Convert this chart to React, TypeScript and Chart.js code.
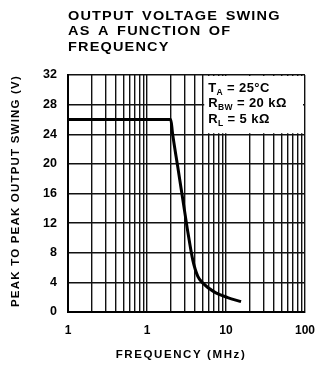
import React, { useEffect, useRef } from "react";
import { Chart, registerables } from "chart.js";

Chart.register(...registerables);

const titleLines = ["OUTPUT VOLTAGE SWING", "AS A FUNCTION OF", "FREQUENCY"];
const xAxisTitle = "FREQUENCY (MHz)";
const yAxisTitle = "PEAK TO PEAK OUTPUT SWING (V)";

const freqMHz = [0.1, 2.0, 2.1, 2.45, 2.85, 3.3, 3.8, 4.4, 5.1, 7.0, 10.5, 15.5];
const swingV = [26, 26, 24.2, 19.6, 15.1, 10.7, 7.0, 4.8, 3.9, 2.75, 1.95, 1.4];

const xTickValues = [0.1, 1, 10, 100];
const xTickLabels = ["1", "1", "10", "100"];
const yMin = 0;
const yMax = 32;
const yStep = 4;

const noteMain = ["T", "R", "R"];
const noteSub = ["A", "BW", "L"];
const noteRest = [" = 25°C", " = 20 kΩ", " = 5 kΩ"];

const FONT = "'Liberation Sans', Arial, sans-serif";

function gridValues(): number[] {
  const out: number[] = [];
  for (let d = 0; d < xTickValues.length - 1; d++) {
    for (let k = 1; k <= 9; k++) out.push(xTickValues[d] * k);
  }
  out.push(xTickValues[xTickValues.length - 1]);
  return out;
}

const decorPlugin = {
  id: "decor",
  beforeDatasetsDraw(chart: any) {
    const ctx = chart.ctx as CanvasRenderingContext2D;
    const a = chart.chartArea;
    const x5 = chart.scales.x.getPixelForValue(5);
    const y24 = chart.scales.y.getPixelForValue(24);
    ctx.save();
    ctx.fillStyle = "#fff";
    ctx.fillRect(x5 + 2, a.top + 1, a.right - x5 - 4, y24 - a.top - 2);
    ctx.fillStyle = "#000";
    ctx.textBaseline = "alphabetic";
    (ctx as any).letterSpacing = "0.4px";
    (ctx as any).wordSpacing = "1.5px";
    const lineY = [92, 107, 123];
    for (let i = 0; i < noteMain.length; i++) {
      let x = x5 + 6;
      ctx.font = `bold 13px ${FONT}`;
      ctx.fillText(noteMain[i], x, lineY[i]);
      x += ctx.measureText(noteMain[i]).width;
      ctx.font = `bold 8.5px ${FONT}`;
      ctx.fillText(noteSub[i], x, lineY[i] + 3);
      x += ctx.measureText(noteSub[i]).width;
      ctx.font = `bold 13px ${FONT}`;
      ctx.fillText(noteRest[i], x, lineY[i]);
    }
    ctx.restore();
  },
  afterDraw(chart: any) {
    const ctx = chart.ctx as CanvasRenderingContext2D;
    const a = chart.chartArea;
    ctx.save();
    ctx.fillStyle = "#000";
    ctx.textBaseline = "middle";
    // main title
    ctx.font = `bold 12.5px ${FONT}`;
    (ctx as any).letterSpacing = "1px";
    (ctx as any).wordSpacing = "2px";
    const ty = [16.5, 32, 48];
    titleLines.forEach((t, i) => {
      ctx.save();
      ctx.translate(a.left, ty[i]);
      ctx.scale(1.16, 1);
      ctx.textAlign = "left";
      ctx.fillText(t, 0, 0);
      ctx.restore();
    });
    // x axis title
    ctx.font = `bold 11.5px ${FONT}`;
    (ctx as any).letterSpacing = "1.6px";
    (ctx as any).wordSpacing = "0px";
    ctx.textAlign = "center";
    ctx.fillText(xAxisTitle, 181, 355);
    // y axis title
    ctx.save();
    ctx.translate(16, 191);
    ctx.rotate(-Math.PI / 2);
    ctx.font = `bold 11.5px ${FONT}`;
    (ctx as any).letterSpacing = "1.2px";
    ctx.textAlign = "center";
    ctx.fillText(yAxisTitle, 0, 0);
    ctx.restore();
    ctx.restore();
  },
};

export default function App() {
  const ref = useRef<HTMLCanvasElement | null>(null);
  useEffect(() => {
    document.body.style.margin = "0";
    const canvas = ref.current;
    if (!canvas) return;
    const chart = new Chart(canvas, {
      type: "line",
      data: {
        datasets: [
          {
            data: freqMHz.map((f, i) => ({ x: f, y: swingV[i] })),
            borderColor: "#000",
            borderWidth: 3,
            pointRadius: 0,
            fill: false,
            cubicInterpolationMode: "monotone",
          },
        ],
      },
      options: {
        responsive: false,
        animation: false,
        devicePixelRatio: 1,
        layout: { padding: { left: 0, right: 22, top: 75, bottom: 0 } },
        plugins: {
          legend: { display: false },
          tooltip: { enabled: false },
          title: { display: false },
        },
        scales: {
          x: {
            type: "logarithmic",
            min: xTickValues[0],
            max: xTickValues[xTickValues.length - 1],
            afterBuildTicks: (s: any) => {
              s.ticks = gridValues().map((v) => ({ value: v }));
            },
            afterFit: (s: any) => {
              s.height = 56;
            },
            grid: { color: "#111", lineWidth: 1.4, drawTicks: false },
            border: { display: true, color: "#000", width: 2 },
            ticks: {
              autoSkip: false,
              maxRotation: 0,
              padding: 11,
              color: "#000",
              font: { family: FONT, weight: "bold", size: 12 },
              callback: (value: any) => {
                const v = Number(value);
                const i = xTickValues.findIndex((t) => Math.abs(t - v) / t < 1e-6);
                return i >= 0 ? xTickLabels[i] : "";
              },
            },
          },
          y: {
            type: "linear",
            min: yMin,
            max: yMax,
            afterFit: (s: any) => {
              s.width = 68;
            },
            grid: { color: "#111", lineWidth: 1.4, drawTicks: false },
            border: { display: true, color: "#000", width: 2 },
            ticks: {
              stepSize: yStep,
              padding: 11,
              color: "#000",
              font: { family: FONT, weight: "bold", size: 12.5 },
            },
          },
        },
      } as any,
      plugins: [decorPlugin],
    });
    return () => chart.destroy();
  }, []);
  return (
    <canvas
      ref={ref}
      width={327}
      height={368}
      style={{ display: "block", width: 327, height: 368 }}
    />
  );
}
